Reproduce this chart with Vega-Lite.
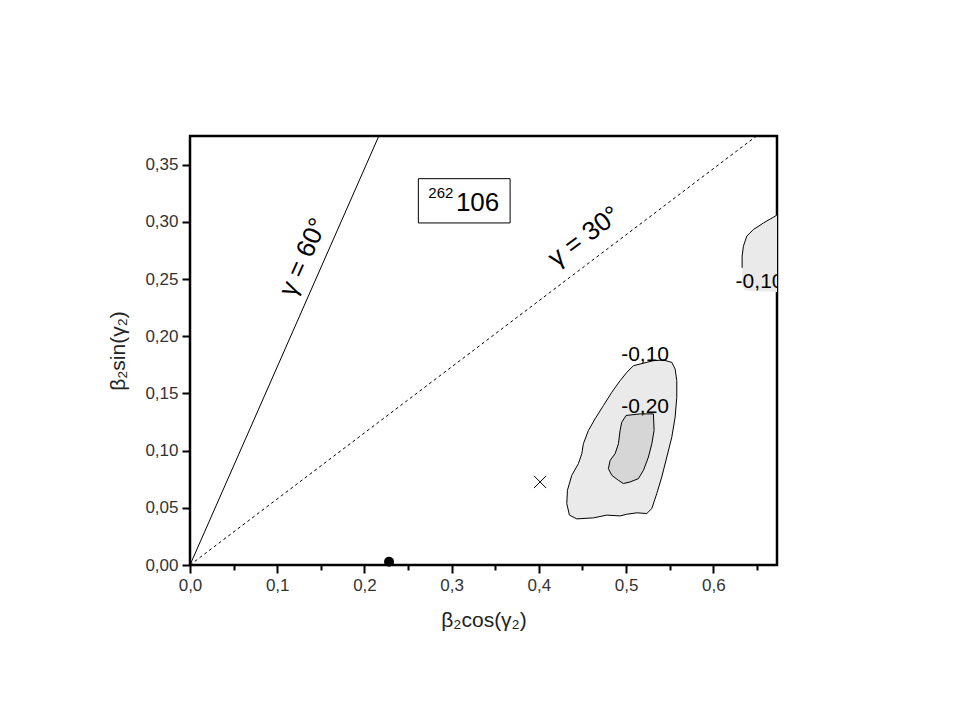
{
  "$schema": "https://vega.github.io/schema/vega-lite/v6.json",
  "width": 587,
  "height": 429,
  "autosize": {"type": "none"},
  "padding": {"left": 190, "top": 136, "right": 183, "bottom": 155},
  "background": "white",
  "config": {
    "view": {"stroke": "black", "strokeWidth": 2.5},
    "font": "Liberation Sans",
    "axis": {"domain": false, "grid": false, "tickColor": "black", "tickWidth": 2, "labelColor": "#333", "labelFontSize": 17, "labelFont": "Liberation Sans", "titleFont": "Liberation Sans", "titleFontSize": 21, "titleFontWeight": "normal", "titleColor": "#222", "labelOverlap": false, "labelFlush": false}
  },
  "datasets": {
    "polys": [
      {"g": "outer", "i": 0, "x": 0.5428, "y": 0.1792},
      {"g": "outer", "i": 1, "x": 0.5524, "y": 0.1771},
      {"g": "outer", "i": 2, "x": 0.5562, "y": 0.1713},
      {"g": "outer", "i": 3, "x": 0.5581, "y": 0.1611},
      {"g": "outer", "i": 4, "x": 0.5581, "y": 0.1466},
      {"g": "outer", "i": 5, "x": 0.5562, "y": 0.1292},
      {"g": "outer", "i": 6, "x": 0.5524, "y": 0.1118},
      {"g": "outer", "i": 7, "x": 0.5467, "y": 0.0944},
      {"g": "outer", "i": 8, "x": 0.5409, "y": 0.0770},
      {"g": "outer", "i": 9, "x": 0.5352, "y": 0.0625},
      {"g": "outer", "i": 10, "x": 0.5295, "y": 0.0494},
      {"g": "outer", "i": 11, "x": 0.5237, "y": 0.0450},
      {"g": "outer", "i": 12, "x": 0.5123, "y": 0.0456},
      {"g": "outer", "i": 13, "x": 0.5008, "y": 0.0444},
      {"g": "outer", "i": 14, "x": 0.4931, "y": 0.0429},
      {"g": "outer", "i": 15, "x": 0.4779, "y": 0.0436},
      {"g": "outer", "i": 16, "x": 0.4625, "y": 0.0412},
      {"g": "outer", "i": 17, "x": 0.4435, "y": 0.0403},
      {"g": "outer", "i": 18, "x": 0.4350, "y": 0.0436},
      {"g": "outer", "i": 19, "x": 0.4320, "y": 0.0537},
      {"g": "outer", "i": 20, "x": 0.4327, "y": 0.0653},
      {"g": "outer", "i": 21, "x": 0.4377, "y": 0.0784},
      {"g": "outer", "i": 22, "x": 0.4453, "y": 0.0886},
      {"g": "outer", "i": 23, "x": 0.4492, "y": 0.0973},
      {"g": "outer", "i": 24, "x": 0.4510, "y": 0.1060},
      {"g": "outer", "i": 25, "x": 0.4568, "y": 0.1176},
      {"g": "outer", "i": 26, "x": 0.4644, "y": 0.1278},
      {"g": "outer", "i": 27, "x": 0.4740, "y": 0.1394},
      {"g": "outer", "i": 28, "x": 0.4836, "y": 0.1510},
      {"g": "outer", "i": 29, "x": 0.4931, "y": 0.1611},
      {"g": "outer", "i": 30, "x": 0.5008, "y": 0.1684},
      {"g": "outer", "i": 31, "x": 0.5084, "y": 0.1742},
      {"g": "outer", "i": 32, "x": 0.5313, "y": 0.1786},
      {"g": "outer", "i": 33, "x": 0.5428, "y": 0.1792},
      {"g": "inner", "i": 0, "x": 0.5000, "y": 0.1307},
      {"g": "inner", "i": 1, "x": 0.5161, "y": 0.1321},
      {"g": "inner", "i": 2, "x": 0.5313, "y": 0.1321},
      {"g": "inner", "i": 3, "x": 0.5321, "y": 0.1176},
      {"g": "inner", "i": 4, "x": 0.5295, "y": 0.1060},
      {"g": "inner", "i": 5, "x": 0.5256, "y": 0.0944},
      {"g": "inner", "i": 6, "x": 0.5199, "y": 0.0828},
      {"g": "inner", "i": 7, "x": 0.5141, "y": 0.0755},
      {"g": "inner", "i": 8, "x": 0.5046, "y": 0.0726},
      {"g": "inner", "i": 9, "x": 0.4969, "y": 0.0712},
      {"g": "inner", "i": 10, "x": 0.4912, "y": 0.0740},
      {"g": "inner", "i": 11, "x": 0.4836, "y": 0.0784},
      {"g": "inner", "i": 12, "x": 0.4797, "y": 0.0842},
      {"g": "inner", "i": 13, "x": 0.4817, "y": 0.0915},
      {"g": "inner", "i": 14, "x": 0.4874, "y": 0.0973},
      {"g": "inner", "i": 15, "x": 0.4912, "y": 0.1060},
      {"g": "inner", "i": 16, "x": 0.4931, "y": 0.1176},
      {"g": "inner", "i": 17, "x": 0.4950, "y": 0.1248},
      {"g": "inner", "i": 18, "x": 0.5000, "y": 0.1307},
      {"g": "tr", "i": 0, "x": 0.6900, "y": 0.3160},
      {"g": "tr", "i": 1, "x": 0.6709, "y": 0.3049},
      {"g": "tr", "i": 2, "x": 0.6575, "y": 0.2990},
      {"g": "tr", "i": 3, "x": 0.6460, "y": 0.2933},
      {"g": "tr", "i": 4, "x": 0.6384, "y": 0.2875},
      {"g": "tr", "i": 5, "x": 0.6345, "y": 0.2787},
      {"g": "tr", "i": 6, "x": 0.6330, "y": 0.2700},
      {"g": "tr", "i": 7, "x": 0.6330, "y": 0.2598},
      {"g": "tr", "i": 8, "x": 0.6330, "y": 0.2450},
      {"g": "tr", "i": 9, "x": 0.6360, "y": 0.2400},
      {"g": "tr", "i": 10, "x": 0.6900, "y": 0.2380}
    ],
    "lines": [
      {"g": "60", "x": 0, "y": 0},
      {"g": "60", "x": 0.2165, "y": 0.375},
      {"g": "30", "x": 0, "y": 0},
      {"g": "30", "x": 0.6495, "y": 0.375}
    ],
    "labels": [
      {"t": "γ = 60°", "x": 0.130, "y": 0.269, "a": -66, "s": 26},
      {"t": "γ = 30°", "x": 0.452, "y": 0.287, "a": -37, "s": 26},
      {"t": "-0,10", "x": 0.5218, "y": 0.1840, "a": 0, "s": 21},
      {"t": "-0,20", "x": 0.5218, "y": 0.1385, "a": 0, "s": 21},
      {"t": "-0,10", "x": 0.6530, "y": 0.2470, "a": 0, "s": 21},
      {"t": "262", "x": 0.2876, "y": 0.3250, "a": 0, "s": 15},
      {"t": "106", "x": 0.3297, "y": 0.3160, "a": 0, "s": 26}
    ],
    "box": [{"x": 0.2618, "x2": 0.367, "y": 0.3377, "y2": 0.299}],
    "points": [
      {"k": "cross", "x": 0.4014, "y": 0.0726},
      {"k": "dot", "x": 0.2282, "y": 0.0029}
    ]
  },
  "layer": [
    {
      "data": {"name": "polys"},
      "transform": [{"filter": "datum.g === 'outer'"}],
      "mark": {"type": "line", "fill": "#eaeaea", "stroke": "black", "strokeWidth": 1, "clip": true},
      "encoding": {
        "x": {"field": "x", "type": "quantitative", "scale": {"domain": [0, 0.673], "nice": false, "zero": false},
          "axis": {"title": "β₂cos(γ₂)", "values": [0, 0.05, 0.1, 0.15, 0.2, 0.25, 0.3, 0.35, 0.4, 0.45, 0.5, 0.55, 0.6, 0.65],
            "labelExpr": "abs(datum.value*10 - round(datum.value*10)) < 0.001 ? replace(format(datum.value, '.1f'), '.', ',') : ''",
            "tickSize": {"condition": {"test": "abs(datum.value*10 - round(datum.value*10)) < 0.001", "value": 8}, "value": 5},
            "labelPadding": 4, "titlePadding": 16}},
        "y": {"field": "y", "type": "quantitative", "scale": {"domain": [0, 0.375], "nice": false, "zero": false},
          "axis": {"title": "β₂sin(γ₂)", "values": [0, 0.025, 0.05, 0.075, 0.1, 0.125, 0.15, 0.175, 0.2, 0.225, 0.25, 0.275, 0.3, 0.325, 0.35],
            "labelExpr": "abs(datum.value*20 - round(datum.value*20)) < 0.001 ? replace(format(datum.value, '.2f'), '.', ',') : ''",
            "tickSize": {"condition": {"test": "abs(datum.value*20 - round(datum.value*20)) < 0.001", "value": 8}, "value": 5},
            "labelPadding": 4, "titlePadding": 16}},
        "order": {"field": "i", "type": "quantitative"}
      }
    },
    {
      "data": {"name": "polys"},
      "transform": [{"filter": "datum.g === 'inner'"}],
      "mark": {"type": "line", "fill": "#d6d6d6", "stroke": "black", "strokeWidth": 1, "clip": true},
      "encoding": {
        "x": {"field": "x", "type": "quantitative"},
        "y": {"field": "y", "type": "quantitative"},
        "order": {"field": "i", "type": "quantitative"}
      }
    },
    {
      "data": {"name": "polys"},
      "transform": [{"filter": "datum.g === 'tr'"}],
      "mark": {"type": "line", "fill": "#eaeaea", "strokeWidth": 0, "strokeOpacity": 0, "clip": true},
      "encoding": {
        "x": {"field": "x", "type": "quantitative"},
        "y": {"field": "y", "type": "quantitative"},
        "order": {"field": "i", "type": "quantitative"}
      }
    },
    {
      "data": {"name": "polys"},
      "transform": [{"filter": "datum.g === 'tr' && datum.i <= 7"}],
      "mark": {"type": "line", "stroke": "black", "strokeWidth": 1, "clip": true},
      "encoding": {
        "x": {"field": "x", "type": "quantitative"},
        "y": {"field": "y", "type": "quantitative"},
        "order": {"field": "i", "type": "quantitative"}
      }
    },
    {
      "data": {"name": "lines"},
      "transform": [{"filter": "datum.g === '60'"}],
      "mark": {"type": "line", "stroke": "black", "strokeWidth": 1, "clip": true},
      "encoding": {
        "x": {"field": "x", "type": "quantitative"},
        "y": {"field": "y", "type": "quantitative"}
      }
    },
    {
      "data": {"name": "lines"},
      "transform": [{"filter": "datum.g === '30'"}],
      "mark": {"type": "line", "stroke": "black", "strokeWidth": 1, "strokeDash": [3, 3], "clip": true},
      "encoding": {
        "x": {"field": "x", "type": "quantitative"},
        "y": {"field": "y", "type": "quantitative"}
      }
    },
    {
      "data": {"name": "box"},
      "mark": {"type": "rect", "fill": "white", "stroke": "black", "strokeWidth": 1},
      "encoding": {
        "x": {"field": "x", "type": "quantitative"},
        "x2": {"field": "x2"},
        "y": {"field": "y", "type": "quantitative"},
        "y2": {"field": "y2"}
      }
    },
    {
      "data": {"name": "labels"},
      "mark": {"type": "text", "font": "Liberation Sans", "color": "black", "align": "center", "baseline": "middle", "clip": true},
      "encoding": {
        "x": {"field": "x", "type": "quantitative"},
        "y": {"field": "y", "type": "quantitative"},
        "text": {"field": "t"},
        "angle": {"field": "a", "type": "quantitative", "scale": null},
        "size": {"field": "s", "type": "quantitative", "scale": null}
      }
    },
    {
      "data": {"name": "points"},
      "transform": [{"filter": "datum.k === 'cross'"}],
      "mark": {"type": "point", "shape": "M-1,-1L1,1M1,-1L-1,1", "size": 150, "stroke": "black", "strokeWidth": 1, "filled": false, "opacity": 1},
      "encoding": {
        "x": {"field": "x", "type": "quantitative"},
        "y": {"field": "y", "type": "quantitative"}
      }
    },
    {
      "data": {"name": "points"},
      "transform": [{"filter": "datum.k === 'dot'"}],
      "mark": {"type": "circle", "size": 100, "color": "black", "opacity": 1},
      "encoding": {
        "x": {"field": "x", "type": "quantitative"},
        "y": {"field": "y", "type": "quantitative"}
      }
    }
  ]
}
